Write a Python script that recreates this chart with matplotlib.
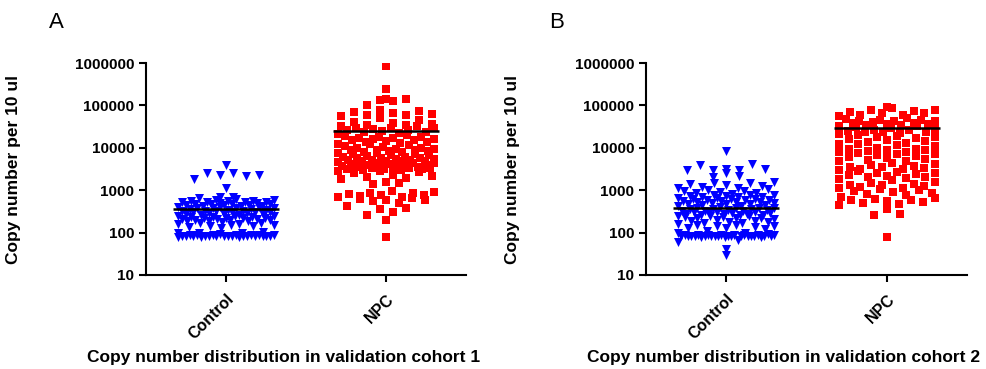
import matplotlib.pyplot as plt
import numpy as np

plt.rcParams['font.family'] = ['Liberation Sans', 'DejaVu Sans']

groups = ['Control', 'NPC']

# cohort 1
ctrl1 = [82, 85, 80, 84, 88, 81, 86, 83, 80, 87, 84, 82, 85, 90, 81, 86, 83, 88, 80, 84, 85, 82, 87, 83, 81, 86,
         98, 100, 105, 95,
         130, 140, 150, 160, 145, 155, 165, 135, 170, 150,
         180, 190, 200, 210, 220, 230, 240, 250, 185, 195, 205, 215, 225, 235, 245, 200, 210, 190, 220, 230,
         260, 270, 280, 290, 300, 310, 320, 330, 340, 350, 265, 285, 305, 325, 345, 300, 280, 320,
         360, 380, 400, 420, 440, 460, 480, 370, 390, 410, 430, 450, 470, 400, 420, 440, 380, 460,
         500, 520, 540, 560, 600, 650, 700, 510, 530, 550, 580, 620, 680, 520, 560,
         1100, 1800, 2200, 2300, 2300, 2500, 2600, 4000]
npc1 = [850000, 250000, 140000, 135000, 130000, 145000, 100000,
        80000, 70000, 60000, 55000, 65000, 75000, 50000, 45000, 58000, 62000,
        40000, 35000, 30000, 25000, 22000, 38000, 32000, 28000, 24000, 21000, 36000, 33000, 27000, 23000, 30000,
        26000, 34000, 29000,
        20000, 18000, 16000, 14000, 12000, 10000, 19000, 17000, 15000, 13000, 11000, 18500, 16500, 14500, 12500,
        10500, 17500, 13500, 11500, 15500,
        9500, 9000, 8500, 8000, 7500, 7000, 6500, 6000, 9200, 8700, 8200, 7700, 7200, 6700, 6200, 9800, 8800,
        7800, 6800,
        5800, 5500, 5200, 5000, 4800, 4600, 4400, 4200, 4000, 3800, 3600, 3400, 3200, 3000, 2800, 2600, 5600,
        5300, 4900, 4500, 4100, 3700, 3300, 2900, 2700, 5100, 4700, 4300, 3900, 3500, 3100, 3000, 3200, 3400,
        3600, 4000, 4400, 4800, 5400, 5900,
        2300, 2000, 1800, 1600, 1500, 1400, 2200, 1900,
        950, 900, 850, 800, 750, 700, 650, 600, 550, 500, 880, 780, 680, 580, 720, 620,
        420, 380, 350, 300, 260, 200,
        80]
mean1 = [350, 25000]

# cohort 2
ctrl2 = [82, 85, 80, 84, 88, 81, 86, 83, 80, 87, 84, 82, 85, 90, 81, 86, 83, 88, 80, 84, 85, 82, 87, 83, 81, 86,
         84, 88,
         60, 65, 42, 30, 100, 110, 95,
         120, 130, 140, 150, 160, 170, 180, 190, 200, 125, 145, 165, 185, 150, 175, 135,
         210, 220, 230, 240, 250, 260, 270, 280, 290, 300, 320, 340, 360, 380, 400, 215, 235, 255, 275, 295, 310,
         330, 350, 370, 390, 225, 245, 265, 285, 305, 325, 345, 365, 385,
         420, 440, 460, 480, 500, 520, 540, 560, 580, 600, 620, 650, 680, 700, 720, 750, 780, 800, 430, 470, 510,
         550, 590, 630, 670, 710, 760, 450, 530, 610, 690,
         850, 900, 950, 1000, 1050, 1100, 1200, 1300, 1400, 1500, 1600, 880, 980, 1150, 1250, 1450,
         2100, 2200, 2600, 3000, 3000, 3100, 3200, 3000, 3900, 4200, 8500]
npc2 = [90000, 85000, 80000, 75000, 70000, 65000, 60000, 55000, 50000, 78000, 68000, 58000,
        48000, 45000, 42000, 40000, 38000, 35000, 33000, 31000, 46000, 36000,
        44000, 39000, 34000, 29000, 43000, 37000, 32000,
        28000, 26000, 24000, 22000, 20000, 18000, 16000, 14000, 12000, 10000, 27000, 23000, 19000, 15000, 11000,
        25000, 21000, 17000, 13000, 24000, 18500, 14500, 12500, 11500,
        9500, 9000, 8500, 8000, 7500, 7000, 6500, 6000, 5500, 5000, 4500, 4000, 8800, 7800, 6800, 5800, 4800,
        9200, 7200, 5200,
        3800, 3500, 3200, 3000, 2800, 2600, 2400, 2200, 2000, 1800, 1600, 3300, 2700, 2100,
        4200, 3600, 3100, 2500, 2300, 1900, 1700,
        1400, 1300, 1200, 1100, 1000, 900, 800, 700, 650, 600, 550, 500, 450,
        1500, 1350, 1250, 1150, 1050, 950, 850, 750, 620, 580, 520, 480,
        350, 270, 260, 80]
mean2 = [380, 29000]

yticks = [10, 100, 1000, 10000, 100000, 1000000]


def spread(ax, xc, vals, row_px=9, gap_px=13, half_px=48):
    # column-scatter layout: group points into rows of the marker height and
    # spread each row sideways, squeezing it when it gets too wide
    tr = ax.transData
    px_per_x = tr.transform((1, 1))[0] - tr.transform((0, 1))[0]
    vals = np.sort(np.asarray(vals, dtype=float))
    rows = np.floor(np.array([tr.transform((0, v))[1] for v in vals]) / row_px)
    xs = np.zeros(len(vals))
    for r in np.unique(rows):
        idx = np.where(rows == r)[0]
        n = len(idx)
        if n == 1:
            continue
        g = min(gap_px, 2 * half_px / (n - 1))
        offs = (np.arange(n) - (n - 1) / 2) * g
        # mix the slots so a row is not a slope
        order = np.argsort((np.arange(n) * 0.618) % 1)
        xs[idx[order]] = offs / px_per_x
    return xc + xs, vals


fig = plt.figure(figsize=(9.86, 3.69), dpi=100)
axA = fig.add_axes([0.148, 0.255, 0.325, 0.574])
axB = fig.add_axes([0.655, 0.255, 0.326, 0.574])

for ax, ctrl, npc, means, letter, cohort in [(axA, ctrl1, npc1, mean1, 'A', 1), (axB, ctrl2, npc2, mean2, 'B', 2)]:
    ax.set_yscale('log')
    ax.set_ylim(10, 1000000)
    ax.set_xlim(-0.5, 1.5)
    x, y = spread(ax, 0, ctrl)
    ax.scatter(x, y, marker='v', s=42, color='#0000ff', linewidths=0, zorder=2)
    x, y = spread(ax, 1, npc)
    ax.scatter(x, y, marker='s', s=34, color='#ff0000', linewidths=0, zorder=2)
    for i, m in enumerate(means):
        ax.hlines(m, i - 0.33, i + 0.33, color='black', lw=1.8, zorder=3)

    ax.spines['top'].set_visible(False)
    ax.spines['right'].set_visible(False)
    ax.spines['left'].set_linewidth(1.5)
    ax.spines['bottom'].set_linewidth(1.5)
    ax.set_yticks(yticks)
    ax.set_yticklabels([str(t) for t in yticks], fontweight='bold', fontsize=11)
    ax.minorticks_off()
    ax.set_xticks([0, 1])
    ax.set_xticklabels(groups, rotation=45, ha='right', rotation_mode='anchor', fontweight='bold', fontsize=11.5)
    ax.tick_params(width=1.5, length=5)
    ax.tick_params(axis='x', pad=7)
    ax.set_ylabel('Copy number per 10 ul', fontweight='bold', fontsize=12.5)
    ax.yaxis.set_label_coords(-0.39, 0.5)
    ax.set_xlabel('Copy number distribution in validation cohort %d' % cohort, fontweight='bold', fontsize=12.5)
    ax.xaxis.set_label_coords(0.43, -0.355)
    ax.text(-0.278, 1.19, letter, transform=ax.transAxes, fontsize=16, ha='center', va='center')

fig.savefig('out.png', dpi=100)
